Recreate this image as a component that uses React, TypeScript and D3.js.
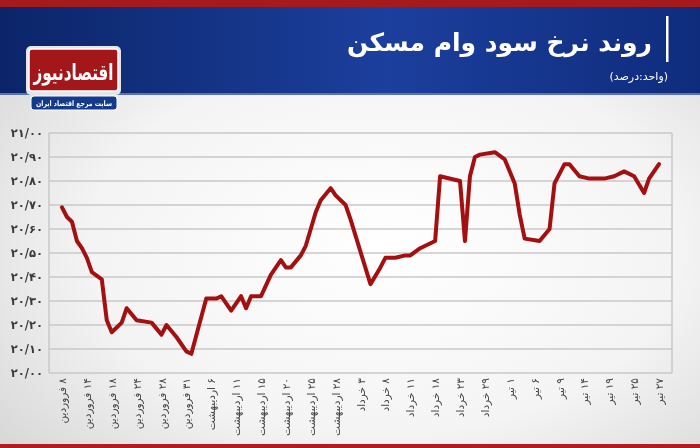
import React from 'react';
import * as d3 from 'd3';

// x labels (one every 5 data steps)
const dateLabels: string[] = [
  '۸ فروردین', '۱۴ فروردین', '۱۸ فروردین', '۲۴ فروردین', '۲۸ فروردین', '۳۱ فروردین',
  '۶ اردیبهشت', '۱۱ اردیبهشت', '۱۵ اردیبهشت', '۲۰ اردیبهشت', '۲۵ اردیبهشت', '۲۸ اردیبهشت',
  '۳ خرداد', '۸ خرداد', '۱۱ خرداد', '۱۸ خرداد', '۲۳ خرداد', '۲۹ خرداد',
  '۱ تیر', '۶ تیر', '۹ تیر', '۱۴ تیر', '۱۹ تیر', '۲۵ تیر', '۲۷ تیر',
];

// step index of each visible vertex of the line
const stepIdx: number[] = [
  0, 1, 2, 3, 4, 5, 6, 8, 9, 10, 12, 13, 15, 18, 20, 21, 23, 25, 26, 29, 31, 32, 34, 36,
  37, 38, 40, 42, 44, 45, 46, 48, 49, 51, 52, 54, 55, 57, 58, 62, 64, 65, 67, 69, 70, 72,
  75, 76, 80, 81, 82, 83, 84, 87, 89, 91, 92, 93, 96, 98, 99, 101, 102, 104, 106, 109,
  111, 113, 115, 117, 118, 120,
];

// housing loan rate (%)
const rates: number[] = [
  20.69, 20.65, 20.63, 20.55, 20.52, 20.48, 20.42, 20.39, 20.22, 20.17, 20.21, 20.27,
  20.22, 20.21, 20.16, 20.2, 20.15, 20.09, 20.08, 20.31, 20.31, 20.32, 20.26, 20.32,
  20.27, 20.32, 20.32, 20.41, 20.47, 20.44, 20.44, 20.49, 20.53, 20.67, 20.72, 20.77,
  20.74, 20.7, 20.64, 20.37, 20.44, 20.48, 20.48, 20.49, 20.49, 20.52, 20.55, 20.82,
  20.8, 20.55, 20.82, 20.9, 20.91, 20.92, 20.89, 20.79, 20.66, 20.56, 20.55, 20.6,
  20.79, 20.87, 20.87, 20.82, 20.81, 20.81, 20.82, 20.84, 20.82, 20.75, 20.81, 20.87,
];

const yTicks: number[] = [20, 20.1, 20.2, 20.3, 20.4, 20.5, 20.6, 20.7, 20.8, 20.9, 21];
const yTickLabels: string[] = [
  '۲۰/۰۰', '۲۰/۱۰', '۲۰/۲۰', '۲۰/۳۰', '۲۰/۴۰', '۲۰/۵۰',
  '۲۰/۶۰', '۲۰/۷۰', '۲۰/۸۰', '۲۰/۹۰', '۲۱/۰۰',
];

const W = 700;
const H = 448;
const font = '"DejaVu Sans", sans-serif';

const App = () => {
  const plotLeft = 49;
  const plotRight = 672;
  const top = 133;
  const bottom = 373;

  const x = d3.scaleLinear().domain([0, 120]).range([62, 659]);
  const y = d3.scaleLinear().domain([20, 21]).range([bottom, top]);

  const pts: [number, number][] = stepIdx.map((s, i) => [s, rates[i]]);
  const line = d3
    .line<[number, number]>()
    .x((d) => x(d[0]))
    .y((d) => y(d[1]));

  return (
    <svg
      width={W}
      height={H}
      style={{ position: 'fixed', left: 0, top: 0 }}
      fontFamily={font}
    >
      <defs>
        <radialGradient id="bg" cx="55%" cy="55%" r="70%">
          <stop offset="0%" stopColor="#ffffff" />
          <stop offset="60%" stopColor="#f4f4f4" />
          <stop offset="100%" stopColor="#d8d8d8" />
        </radialGradient>
        <linearGradient id="hdr" x1="0" x2="1" y1="0" y2="0">
          <stop offset="0%" stopColor="#0b2568" />
          <stop offset="55%" stopColor="#1c3f9d" />
          <stop offset="100%" stopColor="#0f2c7c" />
        </linearGradient>
      </defs>

      <rect x={0} y={0} width={W} height={H} fill="url(#bg)" />

      {/* header */}
      <rect x={0} y={0} width={W} height={7} fill="#a51b1d" />
      <rect x={0} y={7} width={W} height={87} fill="url(#hdr)" />
      <rect x={0} y={93} width={W} height={2} fill="#5a72b8" />
      <rect x={666} y={16} width={2.5} height={46} fill="#ffffff" />
      <text
        x={652}
        y={51}
        fill="#ffffff"
        fontSize={25}
        fontWeight="bold"
        textAnchor="start"
        direction="rtl"
      >
        روند نرخ سود وام مسکن
      </text>
      <text x={668} y={80} fill="#ffffff" fontSize={11} textAnchor="start" direction="rtl">
        (واحد:درصد)
      </text>

      {/* logo */}
      <rect x={26} y={46} width={95} height={49} rx={5} fill="#e6e6e6" />
      <rect x={29} y={49} width={89} height={42} rx={3} fill="#a3161a" stroke="#ffffff" strokeWidth={1.5} />
      <text
        x={73.5}
        y={80}
        fill="#ffffff"
        fontSize={22}
        fontWeight="bold"
        textAnchor="middle"
        textLength={80}
        lengthAdjust="spacingAndGlyphs"
      >
        اقتصادنیوز
      </text>
      <rect x={31} y={96} width={86} height={14} rx={3} fill="#143a8c" stroke="#ffffff" strokeWidth={1} />
      <text
        x={74}
        y={106}
        fill="#ffffff"
        fontSize={7.5}
        fontWeight="bold"
        textAnchor="middle"
        textLength={76}
        lengthAdjust="spacingAndGlyphs"
      >
        سایت مرجع اقتصاد ایران
      </text>

      {/* grid */}
      <g stroke="#c8c8c8" strokeWidth={1.5}>
        {yTicks.map((t) => (
          <line key={t} x1={plotLeft} x2={plotRight} y1={y(t)} y2={y(t)} />
        ))}
        <line x1={plotLeft} x2={plotLeft} y1={top} y2={bottom} />
        <line x1={plotRight} x2={plotRight} y1={top} y2={bottom} />
      </g>

      {yTickLabels.map((l, i) => (
        <text
          key={l}
          x={43}
          y={y(yTicks[i])}
          dy="0.35em"
          fontSize={11.5}
          fontWeight="bold"
          fill="#3a3a3a"
          textAnchor="end"
        >
          {l}
        </text>
      ))}

      {dateLabels.map((l, i) => (
        <text
          key={l}
          transform={`translate(${x(i * 5) + 4},378) rotate(-90)`}
          fontSize={10.5}
          fill="#444444"
          textAnchor="start"
          direction="rtl"
        >
          {l}
        </text>
      ))}

      <path
        d={line(pts) || ''}
        fill="none"
        stroke="#a40f10"
        strokeWidth={4}
        strokeLinejoin="round"
        strokeLinecap="round"
      />

      <rect x={0} y={444} width={W} height={4} fill="#b01c1f" />
    </svg>
  );
};

export default App;
